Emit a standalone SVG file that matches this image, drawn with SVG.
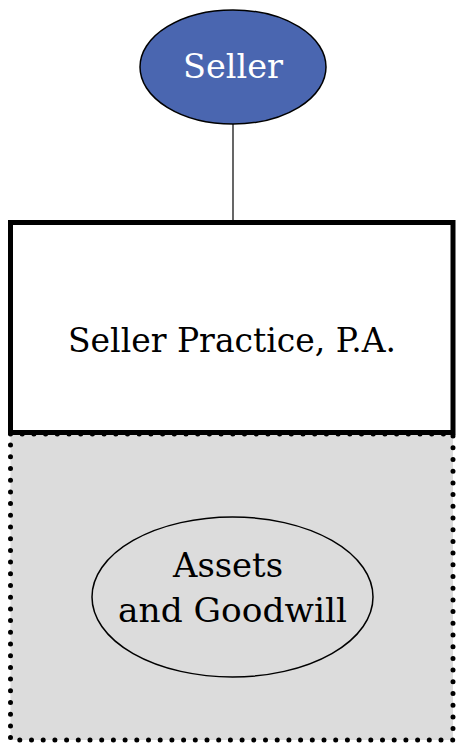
<svg xmlns="http://www.w3.org/2000/svg" width="456" height="744" viewBox="0 0 456 744">
  <style>
    .label { font-family: "DejaVu Serif", "Liberation Serif", serif; font-size: 33px; text-anchor: middle; }
  </style>
  <rect x="0" y="0" width="456" height="744" fill="#ffffff"/>

  <!-- dotted region holding the practice's assets -->
  <g id="assets-region">
    <rect x="10.5" y="434" width="442.5" height="306" fill="#dcdcdc" stroke="#000" stroke-width="5" stroke-linecap="round" stroke-dasharray="0 11.7"/>
  </g>

  <g id="connectors">
    <line x1="233" y1="124" x2="233" y2="222" stroke="#000" stroke-width="1.2"/>
  </g>

  <g id="seller">
    <ellipse cx="233" cy="67" rx="93" ry="57" fill="#4a66b0" stroke="#000" stroke-width="1.5"/>
    <text class="label" x="233" y="78" fill="#ffffff" textLength="100" lengthAdjust="spacingAndGlyphs">Seller</text>
  </g>

  <g id="seller-practice">
    <rect x="10.5" y="222.5" width="442.5" height="210" fill="#ffffff" stroke="#000" stroke-width="5"/>
    <text class="label" x="232" y="352" fill="#000" textLength="328" lengthAdjust="spacingAndGlyphs">Seller Practice, P.A.</text>
  </g>

  <g id="assets-goodwill">
    <ellipse cx="232.5" cy="597" rx="140.5" ry="80" fill="#dcdcdc" stroke="#000" stroke-width="1.5"/>
    <text class="label" x="228" y="577" fill="#000" textLength="110" lengthAdjust="spacingAndGlyphs">Assets</text>
    <text class="label" x="232.5" y="622" fill="#000" textLength="229" lengthAdjust="spacingAndGlyphs">and Goodwill</text>
  </g>
</svg>
